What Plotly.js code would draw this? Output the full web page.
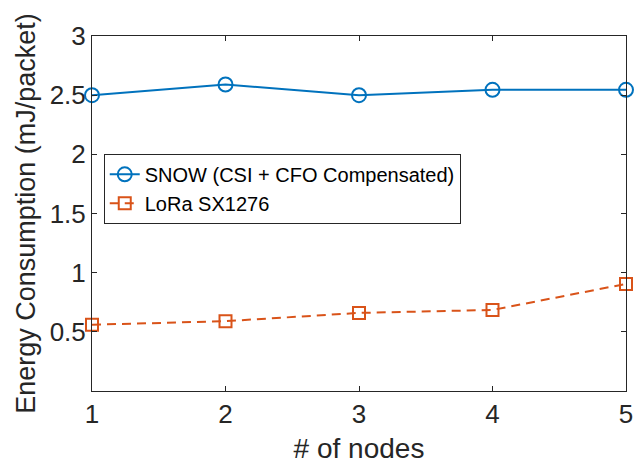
<!DOCTYPE html>
<html>
<head>
<meta charset="utf-8">
<script src="https://cdn.plot.ly/plotly-3.0.1.min.js"></script>
<style>html,body{margin:0;padding:0;background:#fff;}#chart{width:634px;height:468px;}</style>
</head>
<body>
<div id="chart"></div>
<script>
const nodes = [1, 2, 3, 4, 5];
const snowEnergy = [2.50, 2.59, 2.50, 2.545, 2.545];
const loraEnergy = [0.56, 0.59, 0.66, 0.685, 0.905];
const seriesNames = ["SNOW (CSI + CFO Compensated)", "LoRa SX1276"];
const yTickVals = [0.5, 1, 1.5, 2, 2.5, 3];
const yTickText = ["0.5", "1", "1.5", "2", "2.5", "3"];
const xTickVals = [1, 2, 3, 4, 5];

const txt = '#262626';
const fam = 'Liberation Sans, Arial, Helvetica, sans-serif';

const traces = [
  {
    x: nodes, y: snowEnergy, name: seriesNames[0], type: 'scatter', mode: 'lines+markers',
    line: {color: '#0072BD', width: 2},
    marker: {symbol: 'circle-open', size: 14, color: '#0072BD', line: {width: 2, color: '#0072BD'}},
    cliponaxis: false
  },
  {
    x: nodes, y: loraEnergy, name: seriesNames[1], type: 'scatter', mode: 'lines+markers',
    line: {color: '#D95319', width: 2, dash: '9px,6px'},
    marker: {symbol: 'square-open', size: 12, color: '#D95319', line: {width: 2, color: '#D95319'}},
    cliponaxis: false
  }
];

const layout = {
  width: 634, height: 468,
  margin: {l: 92, r: 8, t: 36, b: 77, pad: 0},
  paper_bgcolor: '#fff', plot_bgcolor: '#fff',
  font: {family: fam, color: txt},
  showlegend: true,
  legend: {
    x: 0.022, y: 0.668, xanchor: 'left', yanchor: 'top',
    bgcolor: '#fff', bordercolor: '#262626', borderwidth: 1,
    font: {family: fam, size: 20, color: '#000'},
    tracegroupgap: 0
  },
  xaxis: {
    range: [1, 5], tickvals: xTickVals, ticktext: xTickVals.map(String),
    ticks: 'inside', ticklen: 5, tickwidth: 1, tickcolor: '#262626',
    showline: true, linecolor: '#262626', linewidth: 1, mirror: 'ticks',
    showgrid: false, zeroline: false,
    tickfont: {family: fam, size: 26, color: txt},
    title: {text: '# of nodes', font: {family: fam, size: 28, color: txt}, standoff: 10}
  },
  yaxis: {
    range: [0, 3], tickvals: yTickVals, ticktext: yTickText,
    ticks: 'inside', ticklen: 5, tickwidth: 1, tickcolor: '#262626',
    showline: true, linecolor: '#262626', linewidth: 1, mirror: 'ticks',
    showgrid: false, zeroline: false,
    tickfont: {family: fam, size: 26, color: txt},
    title: {text: 'Energy Consumption (mJ/packet)', font: {family: fam, size: 27, color: txt}, standoff: 6}
  }
};

Plotly.newPlot('chart', traces, layout, {displayModeBar: false, staticPlot: true});
</script>
</body>
</html>
